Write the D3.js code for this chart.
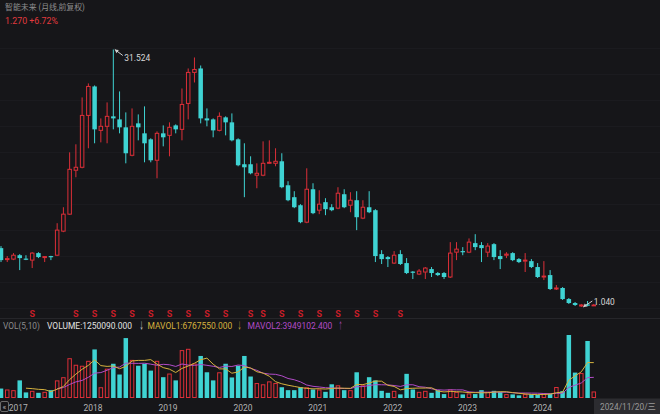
<!DOCTYPE html>
<html>
<head>
<meta charset="utf-8">
<script src="https://cdn.jsdelivr.net/npm/d3@7"></script>
<style>
html, body { margin: 0; padding: 0; background: #161619; }
svg { display: block; }
text { font-family: Roboto, "Noto Sans CJK SC", "DejaVu Sans", sans-serif; }
</style>
</head>
<body>
<div id="space"></div>
<script>
// monthly bars, Dec 2016 .. Nov 2024
var months = d3.timeMonths(new Date(2016, 11, 1), new Date(2024, 11, 1)).map(d3.timeFormat("%Y-%m"));

var open = [8.01, 6.65, 6.71, 7.17, 6.77, 6.59, 7.42, 6.89, 7.07, 7.17,
    10.02, 12.03, 17.23, 17.58, 23.72, 27.15, 21.95, 22.43, 23.61, 23.25,
    22.31, 19.00, 22.78, 21.60, 20.89, 18.41, 21.60, 21.36, 22.54, 22.07,
    25.14, 28.81, 29.28, 23.37, 23.25, 21.95, 23.49, 22.90, 20.89, 17.94,
    17.94, 16.64, 16.64, 18.05, 18.05, 18.29, 15.45, 14.04, 13.09, 11.08,
    14.98, 12.50, 13.45, 12.85, 12.74, 14.39, 13.09, 13.68, 11.56, 12.85,
    12.50, 7.30, 6.95, 6.24, 7.30, 6.24, 5.23, 4.94, 5.18, 5.53,
    5.06, 5.06, 4.59, 7.53, 7.66, 7.53, 8.60, 8.37, 7.53, 8.48,
    7.07, 7.17, 7.42, 6.71, 6.47, 6.47, 5.77, 4.59, 4.82, 3.17,
    3.29, 1.98, 1.51, 1.16, 1.35, 1.19];

var high = [8.25, 7.07, 7.42, 7.30, 7.17, 7.53, 7.53, 7.07, 7.10, 10.96,
    12.85, 19.35, 20.30, 25.85, 27.51, 27.27, 23.37, 25.26, 31.524, 26.56,
    24.08, 24.55, 23.84, 24.79, 21.01, 21.83, 22.54, 22.90, 22.66, 26.91,
    29.28, 30.58, 29.63, 24.55, 23.37, 24.08, 23.61, 23.96, 21.01, 20.42,
    18.88, 18.05, 20.65, 20.77, 19.83, 19.24, 15.93, 14.75, 13.21, 17.46,
    15.69, 14.86, 13.92, 13.21, 15.22, 14.98, 14.63, 14.75, 13.68, 14.75,
    12.62, 7.77, 7.07, 7.66, 7.77, 6.83, 5.29, 5.53, 5.77, 5.77,
    5.18, 5.18, 8.72, 8.72, 8.13, 9.16, 9.66, 8.72, 8.60, 8.60,
    7.77, 7.53, 7.53, 6.83, 7.42, 6.71, 6.24, 6.47, 5.41, 3.64,
    3.40, 2.10, 1.63, 1.40, 1.75, 1.40];

var low = [6.36, 6.36, 6.59, 5.41, 6.59, 5.65, 6.83, 6.36, 6.59, 7.07,
    9.90, 11.95, 16.40, 17.46, 19.83, 20.42, 20.53, 20.42, 22.07, 21.60,
    18.05, 18.88, 20.77, 18.17, 18.17, 16.28, 20.06, 18.88, 21.60, 20.77,
    23.25, 27.62, 22.78, 22.43, 21.13, 21.83, 21.36, 20.65, 17.70, 14.04,
    16.75, 15.10, 16.52, 18.00, 17.70, 15.10, 13.56, 12.74, 10.96, 10.96,
    12.03, 12.03, 11.91, 12.38, 12.62, 12.74, 12.26, 10.14, 11.44, 12.15,
    6.36, 6.13, 5.77, 6.13, 6.01, 4.94, 4.35, 4.82, 4.35, 4.59,
    4.70, 4.35, 4.47, 6.59, 7.17, 7.42, 7.77, 6.36, 6.95, 6.59,
    5.53, 6.83, 6.47, 6.24, 5.18, 5.65, 4.47, 4.23, 3.05, 3.05,
    1.87, 1.40, 1.16, 1.04, 1.12, 1.15];

var close = [6.59, 6.77, 7.17, 6.83, 6.65, 7.42, 6.95, 7.01, 6.95, 10.14,
    12.03, 17.34, 17.58, 23.72, 27.15, 22.07, 22.43, 23.61, 23.37, 22.31,
    19.24, 22.43, 22.31, 20.42, 18.41, 21.60, 21.13, 22.31, 22.07, 25.02,
    28.81, 29.16, 23.37, 23.13, 21.95, 23.61, 22.90, 20.77, 17.82, 17.58,
    16.87, 16.87, 18.05, 18.17, 18.29, 15.22, 13.68, 12.85, 11.08, 14.98,
    12.15, 13.21, 12.62, 12.50, 14.51, 12.85, 13.68, 11.67, 12.85, 12.26,
    7.07, 6.71, 6.71, 7.17, 6.13, 5.06, 5.11, 5.29, 5.65, 5.06,
    4.82, 4.59, 7.42, 7.89, 7.53, 8.72, 8.13, 8.01, 8.25, 6.95,
    6.71, 7.30, 6.59, 6.36, 6.59, 5.77, 4.59, 4.70, 3.17, 3.29,
    1.98, 1.51, 1.28, 1.28, 1.19, 1.27];

var volume = [1810000, 1630000, 1500000, 3370000, 1070000, 1370000, 990000, 1180000, 1500000, 3370000,
    3980000, 7610000, 6360000, 6170000, 7110000, 9290000, 2060000, 5610000, 6550000, 4490000,
    11460000, 7290000, 6170000, 6550000, 5240000, 7110000, 3980000, 4680000, 3370000, 9160000,
    9410000, 6600000, 8040000, 4920000, 3370000, 4920000, 6550000, 3930000, 6170000, 8040000,
    4110000, 2860000, 2620000, 3180000, 2860000, 2060000, 1500000, 1500000, 2060000, 2060000,
    1630000, 1630000, 1180000, 2620000, 2430000, 1500000, 1500000, 4920000, 2430000, 3980000,
    3370000, 1370000, 990000, 1370000, 690000, 4620000, 1630000, 1180000, 1370000, 990000,
    1500000, 750000, 1630000, 1180000, 690000, 880000, 750000, 1500000, 1180000, 1370000,
    1180000, 750000, 690000, 500000, 750000, 690000, 600000, 850000, 800000, 2100000,
    1303274, 12050000, 4860000, 4770000, 10907660, 1250090];

var yearTicks = ["2017-01", "2018-01", "2019-01", "2020-01", "2021-01", "2022-01", "2023-01", "2024-01"];
var eventMonths = ["2017-05", "2017-12", "2018-03", "2018-06", "2018-09", "2018-12", "2019-03", "2019-06",
    "2019-09", "2019-12", "2020-04", "2020-06", "2020-09", "2020-12", "2021-03", "2021-06",
    "2021-09", "2021-12", "2022-04"];

var stockTitle = "智能未来 (月线,前复权)";
var priceText = "1.270 +6.72%";
var dateText = "2024/11/20/三";

var svg, x, y, yVol, rows;
var bg = "#161619", upColor = "#dc2f38", downColor = "#3fd3d3";
var ma1Color = "#d6b23e", ma2Color = "#b24bc8";

init();

function init() {
    rows = months.map(function (m, i) {
        return { month: m, open: open[i], high: high[i], low: low[i], close: close[i], vol: volume[i] };
    });

    initSvg();

    x = d3.scaleBand().domain(months).range([-2.12, 596.92]).paddingInner(0.28).paddingOuter(0.14);
    y = d3.scaleLinear().domain([1.04, 31.524]).range([307, 49.5]);
    yVol = d3.scaleLinear().domain([0, 12050000]).range([398, 335]);

    drawGrid();
    drawHeader();
    drawCandles();
    drawExtremes();
    drawEvents();
    drawVolume();
    drawAxis();
}

function initSvg() {
    svg = d3.select("#space").append("svg")
        .attr("xmlns", "http://www.w3.org/2000/svg")
        .attr("width", 660)
        .attr("height", 414);
    svg.append("rect").attr("width", 660).attr("height", 414).attr("fill", bg);
}

function cx(m) {
    return x(m) + x.bandwidth() / 2;
}

//narrow text: squeeze a text horizontally to the given width
function fitText(x0, y0, width, size, color, str) {
    var t = svg.append("text")
        .attr("font-size", size)
        .attr("fill", color)
        .text(str);
    var w = t.node().getComputedTextLength();
    t.attr("transform", "translate(" + x0 + "," + y0 + ") scale(" + (width / w) + ",1)");
    return t;
}

/************************************************
				Background
*************************************************/
function drawGrid() {
    var g = svg.append("g").attr("id", "grid");
    g.selectAll("line").data(d3.range(48, 310, 26)).join("line")
        .attr("x1", 0).attr("x2", 660)
        .attr("y1", function (d) { return d + 0.5; })
        .attr("y2", function (d) { return d + 0.5; })
        .attr("stroke", "#1b1b1f");

    //panel separator
    g.append("line")
        .attr("x1", 0).attr("x2", 660).attr("y1", 318.5).attr("y2", 318.5)
        .attr("stroke", "#26262a");
}

function drawHeader() {
    fitText(5, 9.5, 80, 8.5, "#8d8d8d", stockTitle);
    fitText(5, 24, 53, 9.5, "#e33a3e", priceText);
}

/************************************************
				Candles
*************************************************/
function drawCandles() {
    var g = svg.append("g").attr("id", "candle");
    var bw = x.bandwidth();

    rows.forEach(function (d) {
        var xc = cx(d.month);
        var up = d.close >= d.open;
        var col = up ? upColor : downColor;
        var top = y(Math.max(d.open, d.close));
        var bot = y(Math.min(d.open, d.close));

        if (up) {
            g.append("line").attr("x1", xc).attr("x2", xc)
                .attr("y1", y(d.high)).attr("y2", top)
                .attr("stroke", col);
            g.append("line").attr("x1", xc).attr("x2", xc)
                .attr("y1", bot).attr("y2", y(d.low))
                .attr("stroke", col);
            g.append("rect")
                .attr("x", x(d.month) + 0.5)
                .attr("y", top)
                .attr("width", bw - 1)
                .attr("height", Math.max(bot - top, 0.8))
                .attr("fill", bg)
                .attr("stroke", col);
        } else {
            g.append("line").attr("x1", xc).attr("x2", xc)
                .attr("y1", y(d.high)).attr("y2", y(d.low))
                .attr("stroke", col);
            g.append("rect")
                .attr("x", x(d.month))
                .attr("y", top)
                .attr("width", bw)
                .attr("height", Math.max(bot - top, 1.2))
                .attr("fill", col);
        }
    });
}

function drawExtremes() {
    var g = svg.append("g").attr("id", "extreme");

    //highest point
    var hi = rows[d3.maxIndex(high)];
    var hx = cx(hi.month) + 1.5, hy = y(hi.high);
    g.append("line").attr("x1", hx + 8).attr("y1", hy + 6).attr("x2", hx).attr("y2", hy)
        .attr("stroke", "#cfcfcf");
    g.append("path")
        .attr("d", "M" + hx + "," + hy + "l4,0.6l-2.4,3.2z")
        .attr("fill", "#cfcfcf");
    fitText(hx + 9.5, hy + 11, 26, 9.5, "#d8d8d8", hi.high.toFixed(3));

    //lowest point
    var lo = rows[d3.minIndex(low)];
    var lx = cx(lo.month) + 2, ly = y(lo.low);
    g.append("line").attr("x1", lx + 9).attr("y1", ly - 6).attr("x2", lx).attr("y2", ly)
        .attr("stroke", "#cfcfcf");
    g.append("path")
        .attr("d", "M" + lx + "," + ly + "l4,-0.4l-2.6,-3z")
        .attr("fill", "#cfcfcf");
    fitText(lx + 10.5, ly - 2, 21, 9.5, "#d8d8d8", lo.low.toFixed(3));
}

function drawEvents() {
    svg.append("g").attr("id", "event")
        .selectAll("text").data(eventMonths).join("text")
        .attr("x", function (d) { return cx(d); })
        .attr("y", 316.5)
        .attr("text-anchor", "middle")
        .attr("font-size", 9)
        .attr("font-weight", "bold")
        .attr("fill", "#c81e28")
        .text("S");
}

/************************************************
				Volume
*************************************************/
function movingAvg(n) {
    return rows.map(function (d, i) {
        if (i < n - 1) return null;
        return d3.mean(volume.slice(i - n + 1, i + 1));
    });
}

function drawVolume() {
    var g = svg.append("g").attr("id", "volume");
    var bw = x.bandwidth();

    rows.forEach(function (d) {
        var up = d.close >= d.open;
        var top = yVol(d.vol);
        if (up) {
            g.append("rect")
                .attr("x", x(d.month) + 0.5).attr("y", top + 0.5)
                .attr("width", bw - 1).attr("height", Math.max(398 - top - 1, 0.5))
                .attr("fill", "none").attr("stroke", upColor);
        } else {
            g.append("rect")
                .attr("x", x(d.month)).attr("y", top)
                .attr("width", bw).attr("height", 398 - top)
                .attr("fill", downColor);
        }
    });

    var ma1 = movingAvg(5), ma2 = movingAvg(10);
    var line = d3.line()
        .defined(function (d) { return d.v != null; })
        .x(function (d) { return cx(d.m); })
        .y(function (d) { return yVol(d.v); });

    [[ma2, ma2Color], [ma1, ma1Color]].forEach(function (s) {
        g.append("path")
            .datum(months.map(function (m, i) { return { m: m, v: s[0][i] }; }))
            .attr("d", line)
            .attr("fill", "none")
            .attr("stroke", s[1])
            .attr("stroke-width", 1);
    });

    //legend
    var last = rows.length - 1;
    function arrow(a, b) { return a >= b ? "↑" : "↓"; }
    fitText(3, 329, 37, 9.5, "#8c8c8c", "VOL(5,10)");
    fitText(47, 329, 85, 9.5, "#e2e2e2", "VOLUME:" + volume[last].toFixed(3));
    fitText(139.5, 329, 4, 9.5, "#e2e2e2", arrow(volume[last], volume[last - 1]));
    fitText(147.5, 329, 85, 9.5, ma1Color, "MAVOL1:" + ma1[last].toFixed(3));
    fitText(237.5, 329, 4, 9.5, ma1Color, arrow(ma1[last], ma1[last - 1]));
    fitText(247.5, 329, 85, 9.5, ma2Color, "MAVOL2:" + ma2[last].toFixed(3));
    fitText(338.5, 329, 4, 9.5, ma2Color, arrow(ma2[last], ma2[last - 1]));
}

/************************************************
				Axis
*************************************************/
function drawAxis() {
    var axis = d3.axisBottom(x)
        .tickValues(yearTicks)
        .tickFormat(function (d) { return d.slice(0, 4); })
        .tickSize(0)
        .tickPadding(3);

    var g = svg.append("g")
        .attr("transform", "translate(0,401.5)")
        .call(axis);
    g.select(".domain").remove();
    g.selectAll("text")
        .attr("text-anchor", "start")
        .attr("dx", 1.5)
        .attr("fill", "#b4b4b4")
        .attr("font-size", 9.5)
        .attr("font-family", "Roboto, sans-serif")
        .attr("textLength", 19)
        .attr("lengthAdjust", "spacingAndGlyphs");

    //scroll-left button
    svg.append("rect")
        .attr("x", 0.5).attr("y", 401.5).attr("width", 8).attr("height", 10).attr("rx", 1.5)
        .attr("fill", "none").attr("stroke", "#6a6a6a");
    svg.append("text")
        .attr("x", 4.5).attr("y", 409.5).attr("text-anchor", "middle")
        .attr("font-size", 8).attr("fill", "#b0b0b0")
        .text("«");

    //current date box
    svg.append("rect")
        .attr("x", 594).attr("y", 398.5).attr("width", 66).attr("height", 15.5)
        .attr("fill", "#2c2c30");
    fitText(600, 410, 56, 9.5, "#9a9a9a", dateText);
}
</script>
</body>
</html>
